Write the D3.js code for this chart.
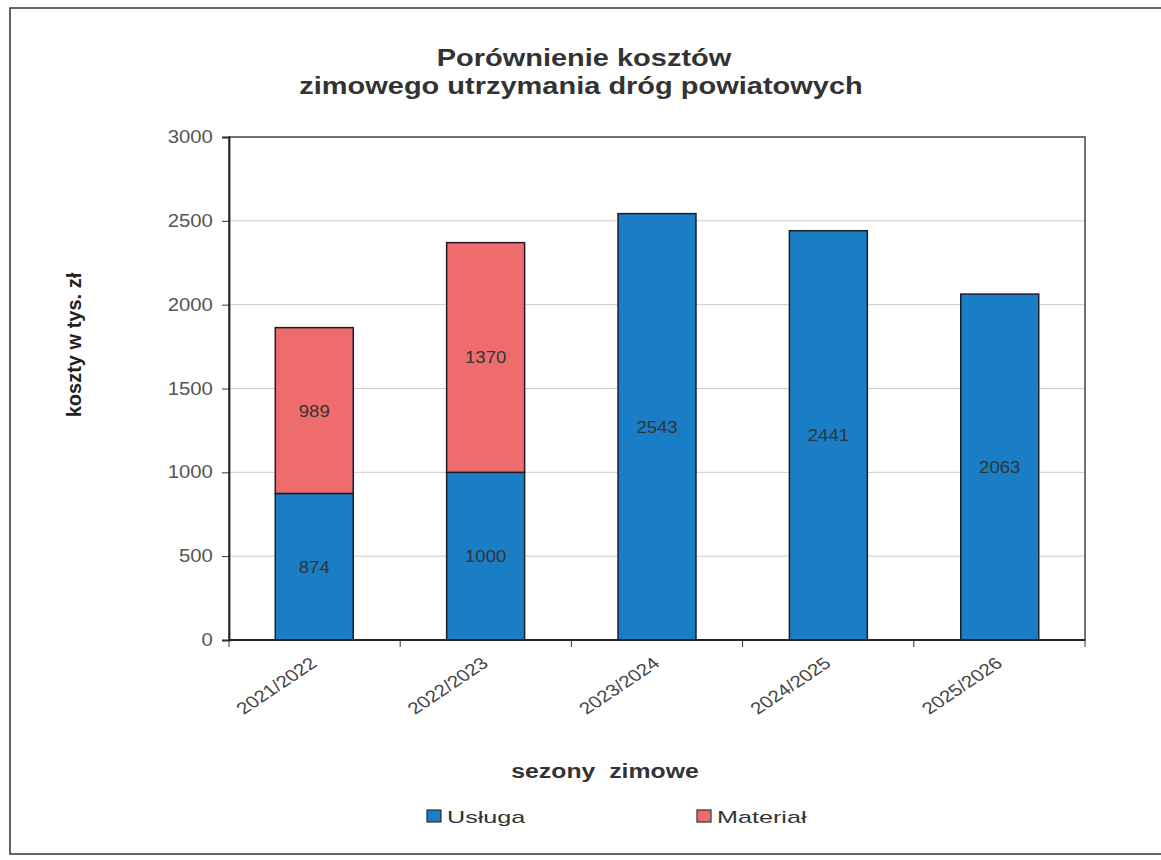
<!DOCTYPE html>
<html>
<head>
<meta charset="utf-8">
<script src="https://cdn.jsdelivr.net/npm/d3@7"></script>
<style>
  body { margin: 0; background: #fff; }
  svg text { font-family: "Liberation Sans", Arial, sans-serif; }
</style>
</head>
<body>
<div id="chart"></div>
<script>
// data
const seasons = ["2021/2022", "2022/2023", "2023/2024", "2024/2025", "2025/2026"];
const usluga = [874, 1000, 2543, 2441, 2063];
const material = [989, 1370, 0, 0, 0];
const yTicks = [0, 500, 1000, 1500, 2000, 2500, 3000];
const seriesNames = ["Usługa", "Materiał"];
const colors = ["#1a7ec7", "#ee6d6c"];

const W = 1161, H = 860;
const plot = {left: 229, top: 137, right: 1085, bottom: 640};

const svg = d3.select("#chart").append("svg")
    .attr("width", W).attr("height", H);

// the scan is a bit wider than tall, so text gets a horizontal stretch
function stext(parent, x, y, str, size, sx, opts) {
  opts = opts || {};
  const g = parent.append("g")
      .attr("transform", `translate(${x},${y}) scale(${sx},1)` + (opts.rotate ? ` rotate(${opts.rotate})` : ""));
  const t = g.append("text")
      .attr("text-anchor", opts.anchor || "middle")
      .attr("font-size", size)
      .attr("fill", opts.fill || "#333")
      .text(str);
  if (opts.bold) t.attr("font-weight", "bold");
  if (opts.ws) t.attr("word-spacing", opts.ws);
  return t;
}

// outer frame
svg.append("rect")
    .attr("x", 10).attr("y", 8).attr("width", W).attr("height", 846)
    .attr("fill", "none").attr("stroke", "#333").attr("stroke-width", 1.5);

const x = d3.scaleBand().domain(seasons)
    .range([plot.left, plot.right]).paddingInner(0.545).paddingOuter(0.27);
const bandStep = (plot.right - plot.left) / seasons.length;
const y = d3.scaleLinear().domain([0, 3000]).range([plot.bottom, plot.top]);

// grid
svg.append("g").selectAll("line").data(yTicks.slice(1, -1)).enter().append("line")
    .attr("x1", plot.left).attr("x2", plot.right)
    .attr("y1", d => y(d)).attr("y2", d => y(d))
    .attr("stroke", "#cdcdcd").attr("stroke-width", 1);

// stacked data
const rows = seasons.map((s, i) => ({season: s, "Usługa": usluga[i], "Materiał": material[i]}));
const stack = d3.stack().keys(seriesNames)(rows);

stack.forEach((layer, li) => {
  const g = svg.append("g");
  layer.forEach(d => {
    const v = d[1] - d[0];
    if (v <= 0) return;
    g.append("rect")
      .attr("x", x(d.data.season))
      .attr("width", x.bandwidth())
      .attr("y", y(d[1]))
      .attr("height", y(d[0]) - y(d[1]))
      .attr("fill", colors[li])
      .attr("stroke", "#1d1d2a").attr("stroke-width", 1.5);
    stext(g, x(d.data.season) + x.bandwidth() / 2, y((d[0] + d[1]) / 2) + 6,
          v, 16, 1.16, {fill: "#333"});
  });
});

// plot frame
svg.append("rect")
    .attr("x", plot.left).attr("y", plot.top)
    .attr("width", plot.right - plot.left).attr("height", plot.bottom - plot.top)
    .attr("fill", "none").attr("stroke", "#444").attr("stroke-width", 1.5);

// y axis
const yAxis = svg.append("g")
    .attr("transform", `translate(${plot.left},0)`)
    .call(d3.axisLeft(y).tickValues(yTicks).tickFormat(d3.format("d")).tickSize(7).tickPadding(7));
yAxis.select(".domain").attr("stroke", "#222").attr("stroke-width", 1.8);
yAxis.selectAll(".tick line").attr("stroke", "#333");
yAxis.selectAll("text").attr("font-size", 17.5).attr("fill", "#555")
    .attr("transform", "scale(1.16,1)")
    .attr("font-family", "Liberation Sans, Arial, sans-serif");

// x axis: ticks at band boundaries
const xAxisG = svg.append("g")
    .attr("transform", `translate(0,${plot.bottom})`);
xAxisG.append("line").attr("x1", plot.left).attr("x2", plot.right)
    .attr("stroke", "#222").attr("stroke-width", 1.8);
xAxisG.selectAll(".tk").data(d3.range(seasons.length + 1)).enter().append("line")
    .attr("x1", i => plot.left + i * bandStep).attr("x2", i => plot.left + i * bandStep)
    .attr("y1", 0).attr("y2", 7).attr("stroke", "#333");
seasons.forEach(s => {
  stext(xAxisG, x(s) + x.bandwidth() / 2 + 4, 25, s, 16.5, 1.25,
        {anchor: "end", rotate: -40, fill: "#444"});
});

// titles
stext(svg, 584, 66, "Porównienie kosztów", 23, 1.26, {bold: true});
stext(svg, 581, 94, "zimowego utrzymania dróg powiatowych", 23, 1.26, {bold: true});

svg.append("text")
    .attr("transform", "translate(81,345) rotate(-90)")
    .attr("text-anchor", "middle")
    .attr("font-size", 20).attr("font-weight", "bold").attr("fill", "#222")
    .text("koszty w tys. zł");

stext(svg, 605, 778, "sezony zimowe", 21, 1.18, {bold: true, ws: 6});

// legend
const legendX = [427, 697];
const leg = svg.append("g").selectAll("g").data(seriesNames).enter().append("g")
    .attr("transform", (d, i) => `translate(${legendX[i]},810)`);
leg.append("rect").attr("x", 0).attr("y", 0).attr("width", 14).attr("height", 12)
    .attr("fill", (d, i) => colors[i]).attr("stroke", "#333").attr("stroke-width", 1.2);
leg.each(function (d) {
  stext(d3.select(this), 20, 13, d, 17, 1.48, {anchor: "start"});
});
</script>
</body>
</html>
